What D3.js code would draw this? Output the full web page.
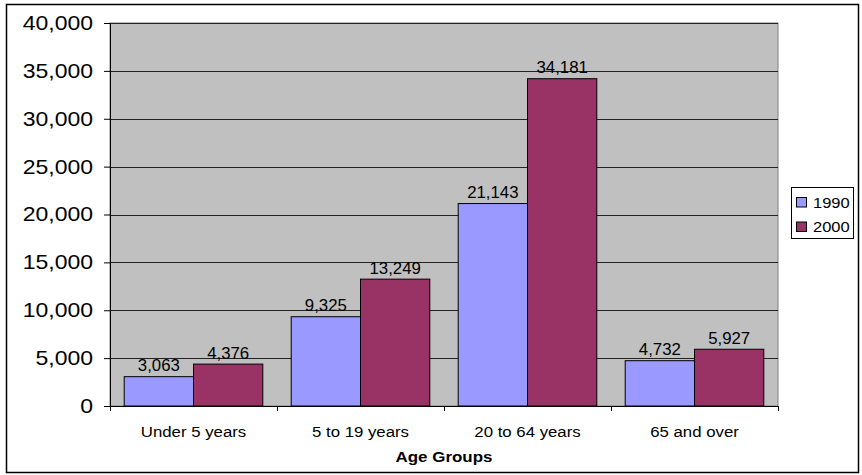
<!DOCTYPE html>
<html><head><meta charset="utf-8">
<script src="https://cdn.jsdelivr.net/npm/d3@7"></script>
<style>
html,body{margin:0;padding:0;background:#fff;}
svg{display:block;font-family:"Liberation Sans",Arial,sans-serif;}
</style>
</head><body>
<svg id="c" width="862" height="475"></svg>
<script>
const categories = ["Under 5 years", "5 to 19 years", "20 to 64 years", "65 and over"];
const seriesNames = ["1990", "2000"];
const values1990 = [3063, 9325, 21143, 4732];
const values2000 = [4376, 13249, 34181, 5927];
const yTicks = [0, 5000, 10000, 15000, 20000, 25000, 30000, 35000, 40000];
const colors = ["#9999FF", "#993366"];
const xTitle = "Age Groups";

const svg = d3.select("#c");
const L = 110, R = 778, T = 23, B = 406;
const fmt = d3.format(",");

// outer border
svg.append("rect").attr("x", 6.5).attr("y", 4.5).attr("width", 852).attr("height", 468)
  .attr("fill", "#fff").attr("stroke", "#000").attr("stroke-width", 1.5);

const y = d3.scaleLinear().domain([0, 40000]).range([B, T]);
const x0 = d3.scaleBand().domain(categories).range([L, R]).paddingInner(0).paddingOuter(0);
const x1 = d3.scaleBand().domain(seriesNames).range([0, x0.bandwidth()]).paddingInner(0).paddingOuter(0.205);

// plot background
svg.append("rect").attr("x", L).attr("y", T).attr("width", R - L).attr("height", B - T)
  .attr("fill", "#C0C0C0").attr("stroke", "#808080").attr("stroke-width", 1);

// gridlines
svg.append("g").selectAll("line").data(yTicks.filter(d => d > 0)).join("line")
  .attr("x1", L).attr("x2", R).attr("y1", d => Math.round(y(d)) + 0.5).attr("y2", d => Math.round(y(d)) + 0.5)
  .attr("stroke", "#222").attr("stroke-width", 1);

// bars
const rows = categories.map((c, i) => ({cat: c, vals: [values1990[i], values2000[i]]}));
const gBars = svg.append("g");
rows.forEach(r => {
  r.vals.forEach((v, j) => {
    const bx = x0(r.cat) + x1(seriesNames[j]);
    gBars.append("rect").attr("x", bx).attr("y", y(v)).attr("width", x1.bandwidth()).attr("height", B - y(v))
      .attr("fill", colors[j]).attr("stroke", "#000").attr("stroke-width", 1);
    gBars.append("text").attr("transform", `translate(${bx + x1.bandwidth() / 2},${y(v) - 5.5}) scale(1.05,1)`)
      .attr("text-anchor", "middle").attr("font-size", 16).attr("fill", "#000").text(fmt(v));
  });
});

// y axis
const yAxis = svg.append("g").attr("transform", `translate(${L},0)`)
  .call(d3.axisLeft(y).tickValues(yTicks).tickFormat(fmt).tickSize(6).tickPadding(11).tickSizeOuter(0));
yAxis.select(".domain").attr("stroke", "#000");
yAxis.selectAll(".tick line").attr("stroke", "#000");
yAxis.selectAll(".tick text").attr("font-size", 20).attr("font-family", "Liberation Sans, Arial, sans-serif")
  .attr("fill", "#000").each(function () {
    const t = d3.select(this); const xx = +t.attr("x");
    t.attr("x", xx / 1.15).attr("transform", "scale(1.15,1)");
  });

// x axis
const xAxis = svg.append("g").attr("transform", `translate(0,${B})`)
  .call(d3.axisBottom(x0).tickSize(0).tickPadding(0).tickSizeOuter(0));
xAxis.select(".domain").attr("stroke", "#000");
xAxis.selectAll(".tick text").remove();
// category tick marks at band boundaries
svg.append("g").selectAll("line").data(categories.concat(["__end"])).join("line")
  .attr("x1", (d, i) => Math.round(i < categories.length ? x0(d) : R) + 0.5)
  .attr("x2", (d, i) => Math.round(i < categories.length ? x0(d) : R) + 0.5)
  .attr("y1", B).attr("y2", B + 5).attr("stroke", "#000");
svg.append("g").selectAll("text").data(categories).join("text")
  .attr("transform", d => `translate(${x0(d) + x0.bandwidth() / 2},${436.5}) scale(1.12,1)`)
  .attr("text-anchor", "middle").attr("font-size", 15).attr("fill", "#000").text(d => d);

// axis title
svg.append("text").attr("transform", `translate(${(L + R) / 2},${461.5}) scale(1.13,1)`)
  .attr("text-anchor", "middle").attr("font-size", 15).attr("font-weight", "bold").attr("fill", "#000").text(xTitle);

// legend
const lg = svg.append("g");
lg.append("rect").attr("x", 791.5).attr("y", 187.5).attr("width", 62).attr("height", 51)
  .attr("fill", "#fff").attr("stroke", "#000").attr("stroke-width", 1);
seriesNames.forEach((s, j) => {
  const yy = 197 + j * 24.5;
  lg.append("rect").attr("x", 796.5).attr("y", yy + 0.5).attr("width", 10).attr("height", 9.5)
    .attr("fill", colors[j]).attr("stroke", "#000").attr("stroke-width", 1);
  lg.append("text").attr("transform", `translate(813,${yy + 10.5}) scale(1.1,1)`)
    .attr("font-size", 15).attr("fill", "#000").text(s);
});
</script>
</body></html>
